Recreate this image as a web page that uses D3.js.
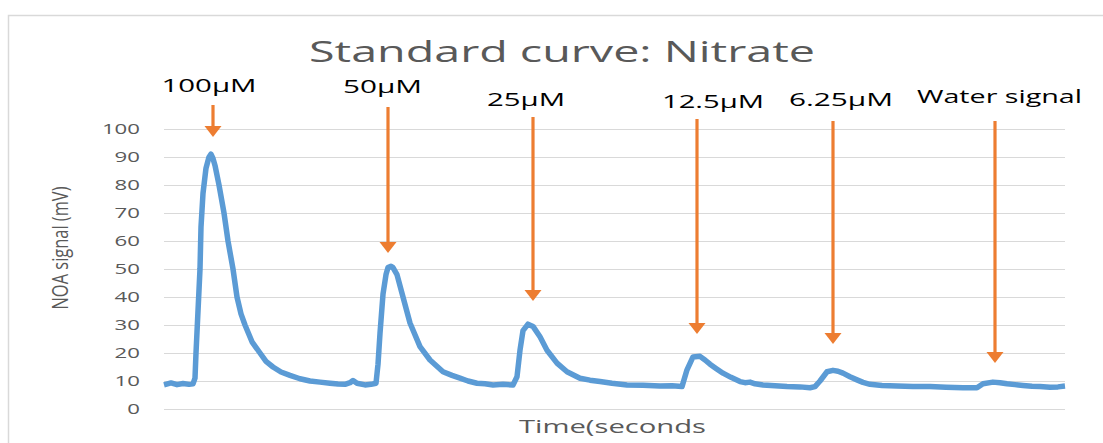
<!DOCTYPE html>
<html>
<head>
<meta charset="utf-8">
<script src="https://cdn.jsdelivr.net/npm/d3@7"></script>
<style>
  body { margin: 0; background: #fff; }
  svg { display: block; }
  text { font-family: "Open Sans", sans-serif; }
</style>
</head>
<body>
<div class="container"></div>
<script>
// time in seconds, NOA signal in mV
var time = [0, 7, 13, 19, 25, 29, 31, 32, 34, 36,
  37, 39, 42, 45, 47, 49, 51, 55, 60, 64,
  69, 73, 77, 81, 88, 96, 102, 109, 117, 126,
  136, 146, 156, 166, 174, 181, 186, 189, 193, 201,
  207, 212, 214, 216, 219, 222, 224, 227, 229, 233,
  239, 246, 256, 266, 279, 288, 296, 304, 313, 321,
  329, 339, 349, 353, 356, 359, 364, 369, 376, 383,
  393, 403, 416, 426, 436, 448, 463, 479, 496, 508,
  518, 523, 529, 536, 541, 546, 552, 559, 567, 576,
  581, 586, 591, 599, 611, 623, 636, 646, 651, 656,
  663, 669, 674, 679, 686, 693, 699, 706, 718, 733,
  749, 766, 782, 799, 813, 819, 829, 836, 843, 851,
  859, 868, 876, 886, 894, 901];

var signal = [8.6, 9.3, 8.7, 9.1, 8.8, 9.0, 11, 20, 35, 50,
  65, 77, 86, 90, 91, 89.5, 87, 80, 70, 60,
  50, 40, 34, 30, 24, 20, 17, 15, 13.2, 12,
  10.8, 10, 9.6, 9.2, 8.9, 8.8, 9.4, 10.2, 9.2, 8.6,
  8.8, 9.2, 16, 27, 41, 48, 50.5, 51, 50.5, 48,
  40, 30.7, 22.3, 17.5, 13.3, 12, 11, 10, 9.2, 9.0,
  8.6, 8.8, 8.6, 11.5, 21, 28, 30.3, 29.5, 25.8, 21,
  16.4, 13.3, 11, 10.3, 9.8, 9.2, 8.6, 8.5, 8.2, 8.3,
  8.0, 14, 18.6, 18.8, 17.5, 16, 14.5, 12.8, 11.3, 9.8,
  9.4, 9.6, 9.0, 8.6, 8.3, 8.0, 7.9, 7.6, 8.0, 10,
  13.3, 13.8, 13.5, 12.8, 11.5, 10.4, 9.5, 8.8, 8.4, 8.2,
  8.0, 8.0, 7.8, 7.6, 7.6, 9.0, 9.6, 9.4, 9.0, 8.7,
  8.4, 8.1, 8.0, 7.8, 7.9, 8.2];

var yTicks = [0, 10, 20, 30, 40, 50, 60, 70, 80, 90, 100];

// annotations: label, time the arrow points at, signal value at the arrow tip
var peakLabels = ["100\u00b5M", "50\u00b5M", "25\u00b5M", "12.5\u00b5M", "6.25\u00b5M", "Water signal"];
var arrowTimes = [49, 224, 369, 533, 669, 831];
var arrowValues = [97.1, 55.7, 38.6, 26.8, 23.2, 16.4];

// label placement
var labelDx = [-4, -5.5, -7, 16, 8, 4.5];
var labelBaseline = [91.7, 93, 106, 108, 106, 102.7];
var labelWidth = [95, 79, 78, 102, 104, 165];
var arrowTop = [105, 107, 117, 119, 121, 121];

var orange = "#ED7D31", blue = "#5B9BD5", grey = "#595959";

var svg = d3.select(".container").append("svg")
    .attr("width", 1103)
    .attr("height", 443);

svg.append("rect")
    .attr("x", 8.5).attr("y", 15.5)
    .attr("width", 1110).attr("height", 440)
    .attr("fill", "none")
    .attr("stroke", "#d9d9d9")
    .attr("stroke-width", 1.5);

var x = d3.scaleLinear().domain([0, 901]).range([164, 1065]);
var y = d3.scaleLinear().domain([0, 100]).range([409, 129]);

var yAxis = svg.append("g")
    .attr("transform", "translate(164,0)")
    .call(d3.axisLeft(y).tickValues(yTicks).tickSize(-(x.range()[1] - x.range()[0])).tickPadding(24));

yAxis.select(".domain").remove();
yAxis.selectAll(".tick line").attr("stroke", "#d9d9d9").attr("stroke-width", 1.2);
yAxis.selectAll(".tick text")
    .attr("fill", grey)
    .style("font-size", "15px")
    .attr("textLength", function(d) { return String(d).length * 12.7; })
    .attr("lengthAdjust", "spacingAndGlyphs");

var line = d3.line()
    .x(function(d, i) { return x(time[i]); })
    .y(function(d) { return y(d); });

svg.append("path")
    .datum(signal)
    .attr("fill", "none")
    .attr("stroke", blue)
    .attr("stroke-width", 5.5)
    .attr("stroke-linejoin", "round")
    .attr("d", line);

// arrows + labels
var ann = svg.selectAll(".ann")
    .data(peakLabels)
    .enter().append("g")
    .attr("class", "ann");

ann.append("line")
    .attr("x1", function(d, i) { return x(arrowTimes[i]); })
    .attr("x2", function(d, i) { return x(arrowTimes[i]); })
    .attr("y1", function(d, i) { return arrowTop[i]; })
    .attr("y2", function(d, i) { return y(arrowValues[i]) - 9; })
    .attr("stroke", orange)
    .attr("stroke-width", 3.2);

ann.append("path")
    .attr("fill", orange)
    .attr("d", function(d, i) {
      var ax = x(arrowTimes[i]), ty = y(arrowValues[i]);
      return "M" + (ax - 8.5) + "," + (ty - 11) + "L" + (ax + 8.5) + "," + (ty - 11) + "L" + ax + "," + ty + "Z";
    });

ann.append("text")
    .attr("x", function(d, i) { return x(arrowTimes[i]) + labelDx[i]; })
    .attr("y", function(d, i) { return labelBaseline[i]; })
    .attr("text-anchor", "middle")
    .attr("fill", "#000")
    .style("font-size", "18.5px")
    .attr("textLength", function(d, i) { return labelWidth[i]; })
    .attr("lengthAdjust", "spacingAndGlyphs")
    .text(function(d) { return d; });

svg.append("text")
    .attr("x", 562).attr("y", 62)
    .attr("text-anchor", "middle")
    .attr("fill", grey)
    .style("font-size", "30px")
    .attr("textLength", 506)
    .attr("lengthAdjust", "spacingAndGlyphs")
    .text("Standard curve: Nitrate");

svg.append("text")
    .attr("x", 612.5).attr("y", 433)
    .attr("text-anchor", "middle")
    .attr("fill", grey)
    .style("font-size", "18.5px")
    .attr("textLength", 187)
    .attr("lengthAdjust", "spacingAndGlyphs")
    .text("Time(seconds");

svg.append("text")
    .attr("transform", "translate(68,248) scale(1.4,1) rotate(-90)")
    .attr("text-anchor", "middle")
    .attr("fill", grey)
    .style("font-size", "15px")
    .attr("textLength", 123)
    .attr("lengthAdjust", "spacingAndGlyphs")
    .text("NOA signal (mV)");
</script>
</body>
</html>
